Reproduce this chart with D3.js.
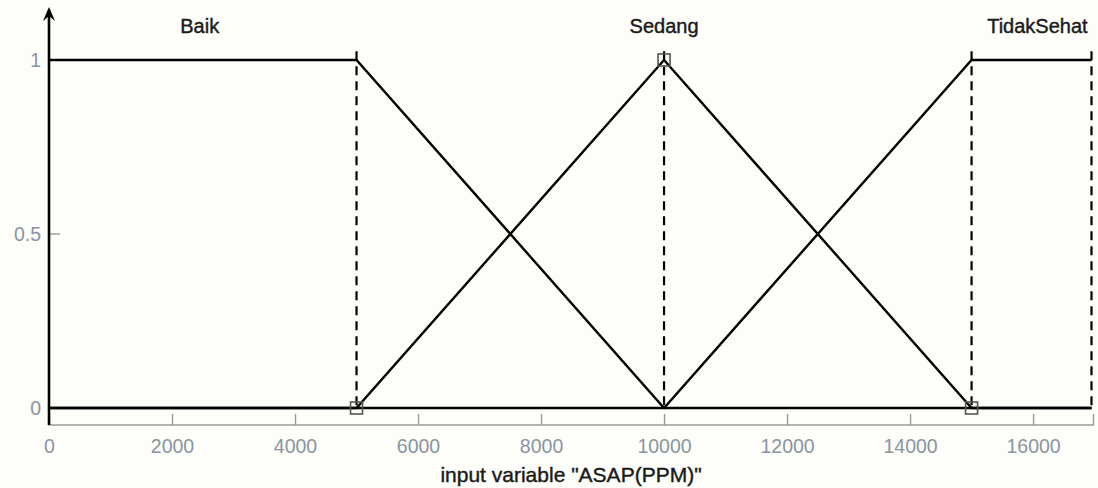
<!DOCTYPE html>
<html>
<head>
<meta charset="utf-8">
<script src="https://cdn.jsdelivr.net/npm/d3@7"></script>
<style>
  html, body { margin: 0; padding: 0; background: #fdfdf9; }
  svg { display: block; }
</style>
</head>
<body>
<svg id="chart" width="1098" height="488"></svg>
<script>
// ---- data ----
const xDomain = [0, 16950];
const xTicks = [0, 2000, 4000, 6000, 8000, 10000, 12000, 14000, 16000];
const yTicks = [0, 0.5, 1];
const yTickLabels = ["0", "0.5", "1"];
const mfNames = ["Baik", "Sedang", "TidakSehat"];
const mfLabelX = [2450, 10000, 16070];
// membership function points [x, mu]
const baikX = [0, 5000, 10000, 16950];
const baikY = [1, 1, 0, 0];
const sedangX = [0, 5000, 10000, 15000, 16950];
const sedangY = [0, 0, 1, 0, 0];
const tidakX = [0, 10000, 15000, 16950];
const tidakY = [0, 0, 1, 1];
// selected MF parameter markers (Sedang)
const markerX = [5000, 10000, 15000];
const markerY = [0, 1, 0];
// dashed parameter guides
const guideX = [5000, 10000, 15000, 16950];
const xLabel = 'input variable "ASAP(PPM)"';

// ---- layout ----
const svg = d3.select("#chart");
const x = d3.scaleLinear().domain(xDomain).range([49, 1091.5]);
const y = d3.scaleLinear().domain([0, 1]).range([408, 60]);
const axisY = 425;
const font = "Liberation Sans, Arial, sans-serif";

// x axis baseline and ticks
const xAxis = d3.axisBottom(x).tickValues(xTicks).tickSizeInner(-11).tickSizeOuter(-11).tickPadding(14)
  .tickFormat(d3.format("d"));
const gx = svg.append("g").attr("transform", `translate(0,${axisY})`).call(xAxis);
gx.select(".domain").attr("stroke", "#9a9a9a").attr("stroke-width", 1.4)
  .attr("d", `M${x(xDomain[0])},-11V0H${x(xDomain[1]) + 2}V-11`);
gx.selectAll(".tick line").attr("stroke", "#9a9a9a").attr("stroke-width", 1.4);
gx.selectAll(".tick text")
  .attr("fill", "#8a94a0")
  .attr("font-family", font)
  .attr("font-size", 19.5);

// y axis tick at 0.5
svg.append("line").attr("x1", x(0)).attr("x2", x(0) + 11).attr("y1", y(0.5)).attr("y2", y(0.5))
  .attr("stroke", "#9a9a9a").attr("stroke-width", 1.4);
svg.selectAll(".ylab").data(yTicks).join("text")
  .attr("class", "ylab")
  .attr("x", 41).attr("y", d => y(d) + 7)
  .attr("text-anchor", "end")
  .attr("fill", "#8a94a0")
  .attr("font-family", font)
  .attr("font-size", 19.5)
  .text((d, i) => yTickLabels[i]);

// dashed guides
svg.selectAll(".guide").data(guideX).join("line")
  .attr("class", "guide")
  .attr("x1", d => x(d)).attr("x2", d => x(d))
  .attr("y1", y(1.025)).attr("y2", y(0))
  .attr("stroke", "#000").attr("stroke-width", 2.2)
  .attr("stroke-dasharray", "9,6");

// membership function lines
const line = d3.line().x(d => x(d[0])).y(d => y(d[1]));
const mfs = [d3.zip(baikX, baikY), d3.zip(sedangX, sedangY), d3.zip(tidakX, tidakY)];
svg.selectAll(".mf").data(mfs).join("path")
  .attr("class", "mf")
  .attr("d", line)
  .attr("fill", "none")
  .attr("stroke", "#000")
  .attr("stroke-width", 2.4)
  .attr("stroke-linejoin", "miter");

// markers
svg.selectAll(".mk").data(d3.zip(markerX, markerY)).join("rect")
  .attr("class", "mk")
  .attr("x", d => x(d[0]) - 6).attr("y", d => y(d[1]) - 6)
  .attr("width", 12).attr("height", 12)
  .attr("fill", "none").attr("stroke", "#555").attr("stroke-width", 1.6);

// y axis line with arrow
svg.append("line").attr("x1", x(0)).attr("x2", x(0)).attr("y1", axisY).attr("y2", 10)
  .attr("stroke", "#000").attr("stroke-width", 2.6);
svg.append("path")
  .attr("d", `M${x(0) - 6},21 L${x(0)},7 L${x(0) + 6},21 L${x(0)},16 Z`)
  .attr("fill", "#000");

// MF labels
svg.selectAll(".mfl").data(mfNames).join("text")
  .attr("class", "mfl")
  .attr("x", (d, i) => x(mfLabelX[i])).attr("y", 33)
  .attr("text-anchor", "middle")
  .attr("fill", "#1a1a1a")
  .attr("stroke", "#1a1a1a").attr("stroke-width", 0.4)
  .attr("font-family", font)
  .attr("font-size", 20)
  .text(d => d);

// x label
svg.append("text")
  .attr("x", 571).attr("y", 482)
  .attr("text-anchor", "middle")
  .attr("fill", "#1a1a1a")
  .attr("stroke", "#1a1a1a").attr("stroke-width", 0.4)
  .attr("font-family", font)
  .attr("font-size", 21)
  .text(xLabel);
</script>
</body>
</html>
